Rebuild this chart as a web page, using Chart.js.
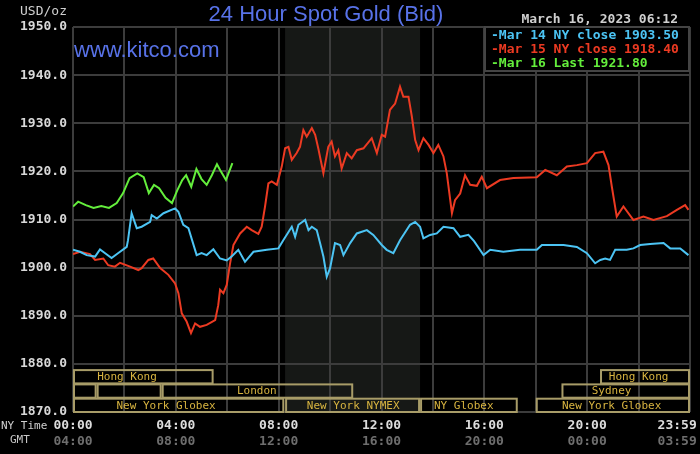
<!DOCTYPE html>
<html><head><meta charset="utf-8">
<script src="https://cdn.jsdelivr.net/npm/chart.js@4.4.1/dist/chart.umd.min.js"></script>
<style>html,body{margin:0;padding:0;background:#000;}#wrap{width:700px;height:454px;}</style>
</head><body><div id="wrap"><canvas id="c" width="700" height="454"></canvas></div>
<script>
// ---- data (hours NY time, USD/oz) ----
const mar14Hours = [0,0.27,0.53,0.86,1.05,1.25,1.5,1.75,2.09,2.14,2.28,2.48,2.67,3.0,3.06,3.26,3.52,3.97,4.1,4.29,4.49,4.81,5.0,5.2,5.46,5.72,5.98,6.17,6.43,6.69,7.02,7.54,7.99,8.18,8.51,8.64,8.77,9.03,9.16,9.29,9.48,9.61,9.74,9.87,10.0,10.19,10.39,10.52,10.78,11.04,11.43,11.68,12.01,12.2,12.46,12.72,13.11,13.31,13.5,13.63,13.89,14.15,14.41,14.8,15.06,15.38,15.6,15.97,16.23,16.74,17.39,18.04,18.24,18.69,19.08,19.6,19.99,20.31,20.51,20.7,20.89,21.09,21.54,21.8,22.06,22.45,22.97,23.23,23.62,23.94];
const mar14Prices = [1903.7,1903.3,1902.6,1902.3,1903.8,1903.0,1902.0,1903.0,1904.3,1905.7,1911.3,1908.2,1908.5,1909.5,1910.9,1910.2,1911.3,1912.3,1911.6,1908.9,1908.2,1902.6,1903.0,1902.6,1903.8,1901.9,1901.5,1902.3,1903.7,1901.2,1903.3,1903.7,1904.0,1905.7,1908.5,1906.4,1908.9,1909.9,1907.8,1908.5,1907.8,1905.1,1902.3,1898.1,1899.9,1905.1,1904.7,1902.6,1905.1,1907.1,1907.8,1906.8,1904.7,1903.7,1903.0,1905.7,1908.9,1909.5,1908.5,1906.1,1906.8,1907.1,1908.5,1908.2,1906.4,1906.8,1905.5,1902.6,1903.7,1903.3,1903.7,1903.7,1904.7,1904.7,1904.7,1904.3,1903.0,1900.9,1901.6,1901.9,1901.6,1903.7,1903.7,1904.0,1904.7,1904.9,1905.1,1904.0,1904.0,1902.6];

const mar15Hours = [0,0.27,0.66,0.86,1.18,1.37,1.63,1.83,2.22,2.54,2.67,2.93,3.12,3.39,3.71,3.97,4.1,4.23,4.42,4.59,4.75,4.94,5.2,5.53,5.65,5.72,5.85,5.98,6.11,6.24,6.5,6.76,6.95,7.21,7.34,7.47,7.6,7.73,7.93,8.12,8.25,8.38,8.51,8.7,8.83,8.96,9.09,9.29,9.42,9.54,9.74,9.93,10.06,10.19,10.32,10.45,10.65,10.84,11.04,11.3,11.62,11.82,12.01,12.14,12.33,12.53,12.72,12.85,13.05,13.18,13.31,13.44,13.63,13.83,14.02,14.21,14.41,14.54,14.74,14.86,15.06,15.25,15.45,15.71,15.9,16.1,16.61,17.13,18.04,18.37,18.82,19.21,19.6,19.99,20.31,20.63,20.83,20.96,21.15,21.41,21.8,22.19,22.58,23.1,23.49,23.81,23.94];
const mar15Prices = [1902.8,1903.3,1902.8,1901.6,1901.9,1900.5,1900.2,1901.0,1900.2,1899.5,1899.9,1901.6,1901.9,1899.9,1898.5,1896.7,1894.7,1890.5,1888.8,1886.4,1888.4,1887.7,1888.1,1889.1,1892.2,1895.4,1894.7,1896.4,1900.9,1904.7,1907.1,1908.5,1907.8,1907.0,1908.5,1912.7,1917.5,1917.9,1917.2,1921.0,1924.8,1925.1,1922.4,1923.8,1925.1,1928.6,1927.2,1929.0,1927.6,1924.8,1919.6,1925.1,1926.2,1923.1,1924.4,1920.6,1923.8,1922.7,1924.4,1924.8,1926.9,1923.8,1927.6,1927.2,1932.8,1934.1,1937.6,1935.5,1935.5,1931.4,1926.5,1924.4,1926.9,1925.5,1923.8,1925.5,1923.1,1919.6,1911.3,1914.0,1915.4,1919.2,1917.2,1917.0,1918.9,1916.5,1918.2,1918.6,1918.8,1920.3,1919.2,1921.0,1921.3,1921.7,1923.8,1924.1,1921.3,1916.8,1910.6,1912.7,1909.9,1910.6,1909.9,1910.7,1912.0,1913.0,1912.0];

const mar16Hours = [0,0.2,0.5,0.8,1.1,1.4,1.7,1.95,2.2,2.5,2.75,2.95,3.15,3.35,3.6,3.85,4.05,4.25,4.4,4.6,4.8,5.0,5.2,5.4,5.6,5.75,5.95,6.2];
const mar16Prices = [1912.7,1913.7,1913.0,1912.4,1912.8,1912.4,1913.4,1915.5,1918.6,1919.6,1918.8,1915.5,1917.2,1916.5,1914.5,1913.4,1916.0,1918.2,1919.2,1916.8,1920.5,1918.4,1917.2,1919.2,1921.5,1920.0,1918.2,1921.7];

const seriesLabels = ['Mar 14 NY close 1903.50','Mar 15 NY close 1918.40','Mar 16 Last 1921.80'];
const seriesColors = ['#4cc4f4','#ec3a22','#64ee3c'];

const nyTickHours = [0,2,4,6,8,10,12,14,16,18,20,22,23.5,24];
const nyTimeLabels = {0:'00:00',4:'04:00',8:'08:00',12:'12:00',16:'16:00',20:'20:00',23.5:'23:59'};
const gmtTimeLabels = {0:'04:00',4:'08:00',8:'12:00',12:'16:00',16:'20:00',20:'00:00',23.5:'03:59'};

const yTicks = [1870,1880,1890,1900,1910,1920,1930,1940,1950];

// trading sessions: [name, startHour, endHour, row(0=top)]
const sessionNames = ['Hong Kong','','','London','New York Globex','New York NYMEX','NY Globex','New York Globex','Sydney','Hong Kong'];
const sessionStart = [0,0,0.92,3.45,0,8.25,13.5,18.0,19.0,20.5];
const sessionEnd   = [5.47,0.92,3.45,10.9,8.22,13.5,17.3,24,24,24];
const sessionRow   = [0,1,1,1,2,2,2,2,1,0];
const sessionLabelAt = [2.1,null,null,7.15,3.62,10.9,15.2,20.95,20.95,22.0];

const pitStart = 8.25, pitEnd = 13.5;

// ---- build ----
function pts(h, p){ return h.map((x,i)=>({x:x,y:p[i]})); }
const monoFont = "'DejaVu Sans Mono', monospace";

const decor = {
  id:'decor',
  beforeDraw(chart){
    const {ctx, chartArea:a, scales:{x}} = chart;
    ctx.save();
    ctx.fillStyle = '#000';
    ctx.fillRect(0,0,chart.width,chart.height);
    ctx.fillStyle = '#161816';
    const x1 = x.getPixelForValue(pitStart), x2 = x.getPixelForValue(pitEnd);
    ctx.fillRect(x1, a.top, x2-x1, a.bottom-a.top);
    ctx.restore();
  },
  afterDraw(chart){
    const {ctx, chartArea:a, scales:{x}} = chart;
    ctx.save();
    // sessions
    const rowH = 14.3;
    ctx.lineWidth = 2;
    ctx.strokeStyle = '#a89c68';
    ctx.font = "11px " + monoFont;
    ctx.textAlign = 'center'; ctx.textBaseline = 'middle';
    for (let i=0;i<sessionNames.length;i++){
      const r = sessionRow[i];
      const top = a.bottom - (3-r)*rowH;
      const xs = x.getPixelForValue(sessionStart[i]), xe = x.getPixelForValue(sessionEnd[i]);
      ctx.strokeRect(xs+1, top+1, xe-xs-2, rowH-1);
      if (sessionNames[i]) {
        ctx.fillStyle = '#d8b440';
        ctx.fillText(sessionNames[i], x.getPixelForValue(sessionLabelAt[i]), top+rowH/2+1);
      }
    }
    // legend box
    const lx = 485, ly = a.top, lw = a.right-lx-1, lh = 44;
    ctx.fillStyle = '#000';
    ctx.fillRect(lx, ly, lw, lh);
    ctx.strokeStyle = '#444'; ctx.lineWidth = 2;
    ctx.strokeRect(lx, ly, lw, lh);
    ctx.font = "bold 13px " + monoFont;
    ctx.textAlign = 'left';
    chart.data.datasets.forEach((d,i)=>{
      ctx.fillStyle = d.borderColor;
      ctx.fillText('-' + d.label, 491, ly + 9 + i*14);
    });
    // texts
    ctx.fillStyle = '#5872e8';
    ctx.textAlign = 'center';
    ctx.font = "22px 'Liberation Sans', Arial, sans-serif";
    ctx.fillText('24 Hour Spot Gold (Bid)', 326, 15);
    ctx.textAlign = 'left';
    ctx.font = "22px 'Liberation Sans', Arial, sans-serif";
    ctx.fillText('www.kitco.com', 74, 51);
    ctx.fillStyle = '#cfcfcf';
    ctx.font = "13px " + monoFont;
    ctx.textAlign = 'right';
    ctx.fillText('USD/oz', 67, 12);
    ctx.font = "bold 13px " + monoFont;
    ctx.fillText('March 16, 2023 06:12', 678, 20);
    ctx.textAlign = 'left';
    ctx.font = "11px " + monoFont;
    ctx.fillText('NY Time', 1, 426);
    ctx.fillStyle = '#c8c8c8';
    ctx.fillText('GMT', 10, 440);
    ctx.restore();
  }
};

const chart = new Chart(document.getElementById('c'), {
  type:'line',
  data:{ datasets:[
    {label:seriesLabels[0], data:pts(mar14Hours,mar14Prices), borderColor:seriesColors[0]},
    {label:seriesLabels[1], data:pts(mar15Hours,mar15Prices), borderColor:seriesColors[1]},
    {label:seriesLabels[2], data:pts(mar16Hours,mar16Prices), borderColor:seriesColors[2]}
  ]},
  options:{
    responsive:false, animation:false, devicePixelRatio:1,
    layout:{padding:{top:27,right:10,left:0,bottom:0}},
    elements:{point:{radius:0}, line:{borderWidth:2, tension:0}},
    plugins:{legend:{display:false}, tooltip:{enabled:false}},
    scales:{
      x:{type:'linear', position:'bottom', min:0, max:24,
        afterBuildTicks:s=>{ s.ticks = nyTickHours.map(v=>({value:v})); },
        afterFit:s=>{ s.height = 22; },
        grid:{color:c=> (c.tick && c.tick.value===23.5) ? 'rgba(0,0,0,0)' : '#3c3c3c', lineWidth:2, drawTicks:false},
        border:{display:false},
        ticks:{autoSkip:false, maxRotation:0, padding:6, color:'#dcdcdc',
          font:{family:"'DejaVu Sans Mono', monospace", size:13, weight:'bold'},
          callback:v=> nyTimeLabels[v] || ''}
      },
      x2:{type:'linear', position:'bottom', min:0, max:24,
        afterBuildTicks:s=>{ s.ticks = nyTickHours.map(v=>({value:v})); },
        afterFit:s=>{ s.height = 20; },
        grid:{display:false, drawTicks:false}, border:{display:false},
        ticks:{autoSkip:false, maxRotation:0, padding:0, color:'#6e6e6e',
          font:{family:"'DejaVu Sans Mono', monospace", size:13, weight:'bold'},
          callback:v=> gmtTimeLabels[v] || ''}
      },
      y:{type:'linear', min:1870, max:1950,
        afterBuildTicks:s=>{ s.ticks = yTicks.map(v=>({value:v})); },
        afterFit:s=>{ s.width = 73; },
        grid:{color:'#3c3c3c', lineWidth:2, drawTicks:false},
        border:{display:false},
        ticks:{padding:6, color:'#d8d8d8',
          font:{family:"'DejaVu Sans Mono', monospace", size:13, weight:'bold'},
          callback:v=> v.toFixed(1)}
      }
    }
  },
  plugins:[decor]
});
</script></body></html>
